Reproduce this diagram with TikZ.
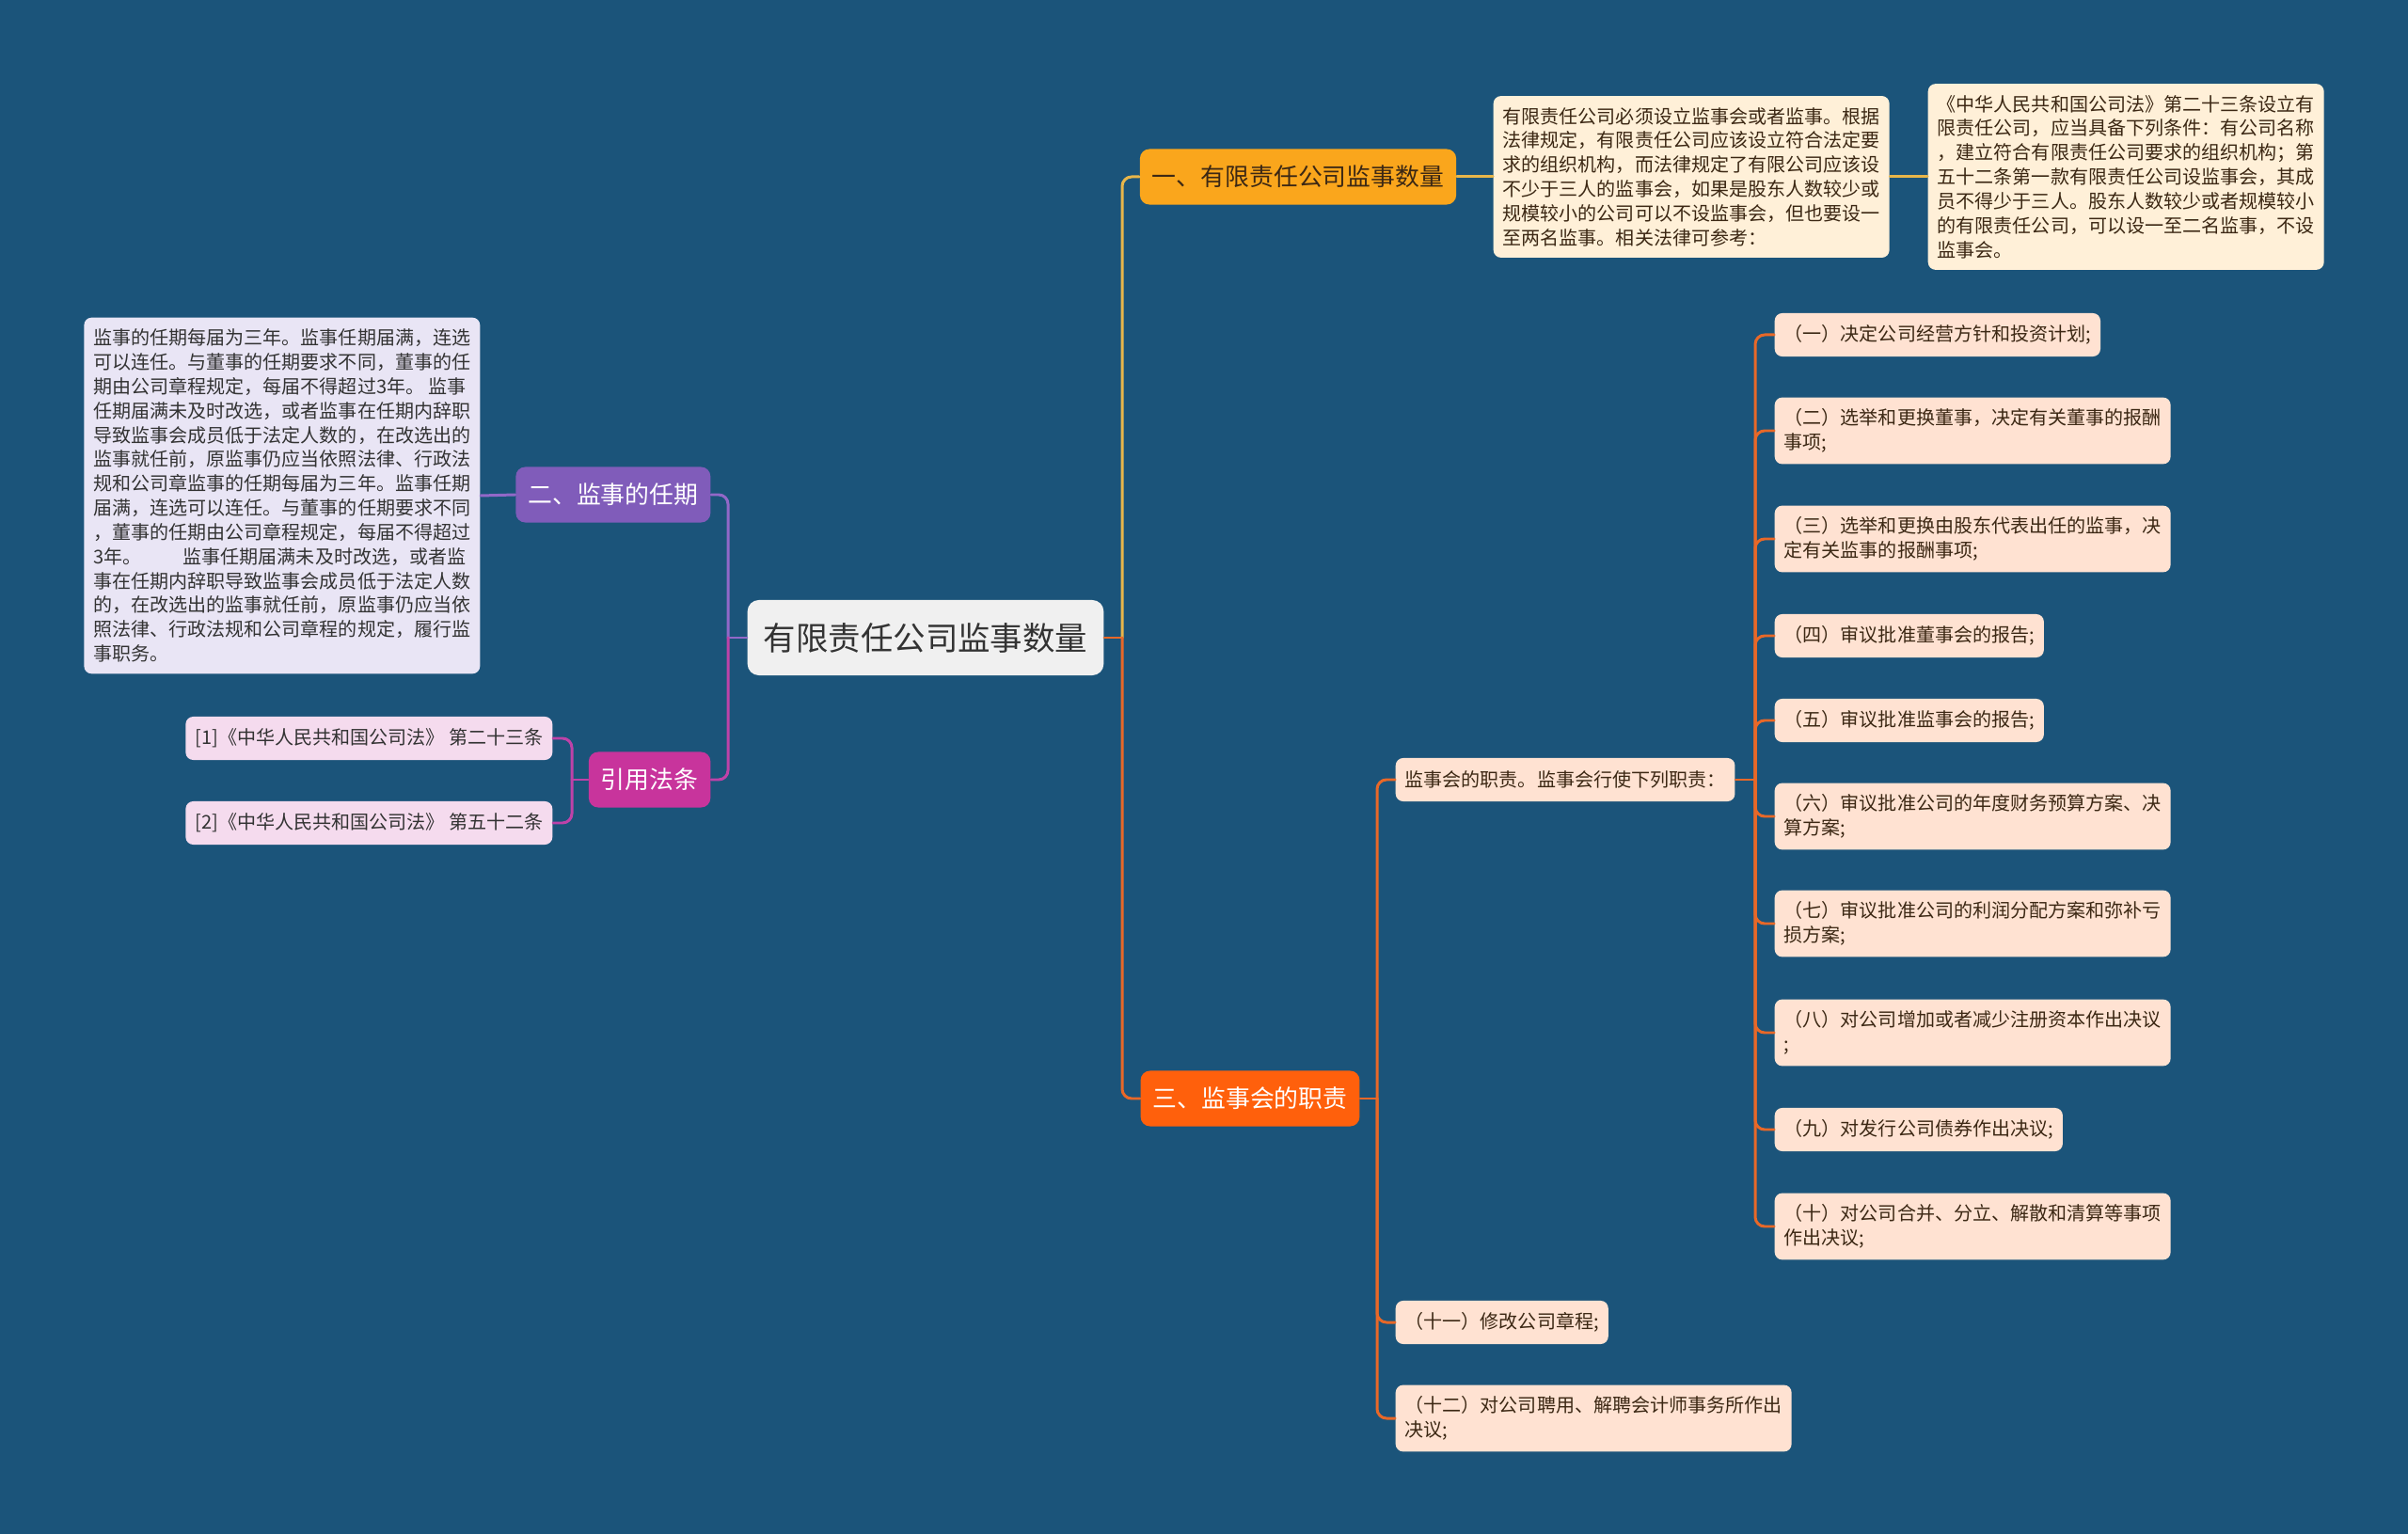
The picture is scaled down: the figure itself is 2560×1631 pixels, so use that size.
\documentclass[tikz,border=0pt]{standalone}
\usepackage{fontspec}
\setmainfont{Noto Sans CJK SC}
\usetikzlibrary{positioning}
\definecolor{bgblue}{RGB}{27,84,122}
\definecolor{goldline}{RGB}{232,182,74}
\definecolor{goldfill}{RGB}{250,166,28}
\definecolor{creamfill}{RGB}{255,240,216}
\definecolor{orangeline}{RGB}{232,104,40}
\definecolor{orangefill}{RGB}{255,96,12}
\definecolor{peachfill}{RGB}{255,226,210}
\definecolor{purpleline}{RGB}{146,104,200}
\definecolor{purplefill}{RGB}{128,92,186}
\definecolor{lavfill}{RGB}{233,229,245}
\definecolor{magline}{RGB}{190,66,168}
\definecolor{magfill}{RGB}{200,52,156}
\definecolor{pinkfill}{RGB}{245,219,238}
\definecolor{rootfill}{RGB}{240,240,240}
\definecolor{leaftext}{RGB}{60,40,20}
\newcommand{\leaffont}{\fontsize{5.7}{7.35}\selectfont}
\newcommand{\branchfont}{\fontsize{7.35}{9}\selectfont}
\newcommand{\rootfont}{\fontsize{9.8}{12}\selectfont}
\tikzset{
	wire/.style={line width=0.85pt},
	elbow/.style={wire, rounded corners=0.1cm},
	rootbox/.style={fill=rootfill, text=black!80, rounded corners=0.12cm, minimum height=0.8cm, inner xsep=0.17cm, font=\rootfont},
	branch/.style={rounded corners=0.1cm, minimum height=0.59cm, inner xsep=0.13cm, inner ysep=0pt, font=\branchfont},
	leaf/.style={rounded corners=0.08cm, inner xsep=0.1cm, inner ysep=0.12cm, align=left, font=\leaffont, text=leaftext},
	leafone/.style={leaf, minimum height=0.46cm},
}

\begin{document}
\begin{tikzpicture}[x=0.01cm, y=-0.01cm, line cap=round, line join=round]
	
	% Background
	\fill[bgblue] (0,0) rectangle (2560,1631);
	\useasboundingbox (0,0) rectangle (2560,1631);
	
	% Root
	\node[rootbox] (root) at (984,678) {有限责任公司监事数量};
	
	% Branch one (top right)
	\node[branch, fill=goldfill, text=leaftext] (one) at (1380,188) {一、有限责任公司监事数量};
	\node[leaf, fill=creamfill, anchor=west] (txt1) at (1587,188) {有限责任公司必须设立监事会或者监事。根据\\法律规定，有限责任公司应该设立符合法定要\\求的组织机构，而法律规定了有限公司应该设\\不少于三人的监事会，如果是股东人数较少或\\规模较小的公司可以不设监事会，但也要设一\\至两名监事。相关法律可参考：};
	\node[leaf, fill=creamfill, anchor=west] (txt2) at (2049,188) {《中华人民共和国公司法》第二十三条设立有\\限责任公司，应当具备下列条件：有公司名称\\，建立符合有限责任公司要求的组织机构；第\\五十二条第一款有限责任公司设监事会，其成\\员不得少于三人。股东人数较少或者规模较小\\的有限责任公司，可以设一至二名监事，不设\\监事会。};
	
	% Branch two (left)
	\node[branch, fill=purplefill, text=white, anchor=east] (two) at (756,526) {二、监事的任期};
	\node[leaf, fill=lavfill, text=black!80, anchor=east] (term) at (511,527) {监事的任期每届为三年。监事任期届满，连选\\可以连任。与董事的任期要求不同，董事的任\\期由公司章程规定，每届不得超过3年。 监事\\任期届满未及时改选，或者监事在任期内辞职\\导致监事会成员低于法定人数的，在改选出的\\监事就任前，原监事仍应当依照法律、行政法\\规和公司章监事的任期每届为三年。监事任期\\届满，连选可以连任。与董事的任期要求不同\\，董事的任期由公司章程规定，每届不得超过\\3年。\hspace{2.2em}监事任期届满未及时改选，或者监\\事在任期内辞职导致监事会成员低于法定人数\\的，在改选出的监事就任前，原监事仍应当依\\照法律、行政法规和公司章程的规定，履行监\\事职务。};
	
	% Citations (left)
	\node[branch, fill=magfill, text=white, anchor=east] (cite) at (756,829) {引用法条};
	\node[leafone, fill=pinkfill, text=black!80, anchor=east] (c1) at (588,785) {[1]《中华人民共和国公司法》 第二十三条};
	\node[leafone, fill=pinkfill, text=black!80, anchor=east] (c2) at (588,875) {[2]《中华人民共和国公司法》 第五十二条};
	
	% Branch three (bottom right)
	\node[branch, fill=orangefill, text=white] (three) at (1329,1168) {三、监事会的职责};
	\node[leafone, fill=peachfill, anchor=west] (duty) at (1483,829) {监事会的职责。监事会行使下列职责：};
	\node[leafone, fill=peachfill, anchor=west] (d1) at (1886,356) {（一）决定公司经营方针和投资计划;};
	\node[leaf, fill=peachfill, anchor=west] (d2) at (1886,458) {（二）选举和更换董事，决定有关董事的报酬\\事项;};
	\node[leaf, fill=peachfill, anchor=west] (d3) at (1886,573) {（三）选举和更换由股东代表出任的监事，决\\定有关监事的报酬事项;};
	\node[leafone, fill=peachfill, anchor=west] (d4) at (1886,676) {（四）审议批准董事会的报告;};
	\node[leafone, fill=peachfill, anchor=west] (d5) at (1886,766) {（五）审议批准监事会的报告;};
	\node[leaf, fill=peachfill, anchor=west] (d6) at (1886,868) {（六）审议批准公司的年度财务预算方案、决\\算方案;};
	\node[leaf, fill=peachfill, anchor=west] (d7) at (1886,982) {（七）审议批准公司的利润分配方案和弥补亏\\损方案;};
	\node[leaf, fill=peachfill, anchor=west] (d8) at (1886,1098) {（八）对公司增加或者减少注册资本作出决议\\;};
	\node[leafone, fill=peachfill, anchor=west] (d9) at (1886,1201) {（九）对发行公司债券作出决议;};
	\node[leaf, fill=peachfill, anchor=west] (d10) at (1886,1304) {（十）对公司合并、分立、解散和清算等事项\\作出决议;};
	\node[leafone, fill=peachfill, anchor=west] (d11) at (1483,1406) {（十一）修改公司章程;};
	\node[leaf, fill=peachfill, anchor=west] (d12) at (1483,1508) {（十二）对公司聘用、解聘会计师事务所作出\\决议;};
	
	% Connectors right of root
	\coordinate (rt) at (1193,678);
	\draw[orangeline, wire] (root.east) -- (rt);
	\draw[goldline, elbow] (rt) |- (one.west);
	\draw[orangeline, elbow] (rt) |- (three.west);
	\draw[goldline, wire] (one.east) -- (txt1.west);
	\draw[goldline, wire] (txt1.east) -- (txt2.west);
	
	% Connectors left of root
	\coordinate (lt) at (774,678);
	\draw[purpleline, wire] (root.west) -- (lt);
	\draw[purpleline, elbow] (lt) |- (two.east);
	\draw[magline, elbow] (lt) |- (cite.east);
	\draw[purpleline, wire] (two.west) -- (term.east);
	\coordinate (ct) at (608,829);
	\draw[magline, wire] (cite.west) -- (ct);
	\draw[magline, elbow] (ct) |- (c1.east);
	\draw[magline, elbow] (ct) |- (c2.east);
	
	% Duties
	\coordinate (tt) at (1464,1168);
	\draw[orangeline, wire] (three.east) -- (tt);
	\foreach \n in {duty,d11,d12}
		\draw[orangeline, elbow] (tt) |- (\n.west);
	\coordinate (dt) at (1866,829);
	\draw[orangeline, wire] (duty.east) -- (dt);
	\foreach \n in {d1,d2,d3,d4,d5,d6,d7,d8,d9,d10}
		\draw[orangeline, elbow] (dt) |- (\n.west);
	
\end{tikzpicture}
\end{document}
